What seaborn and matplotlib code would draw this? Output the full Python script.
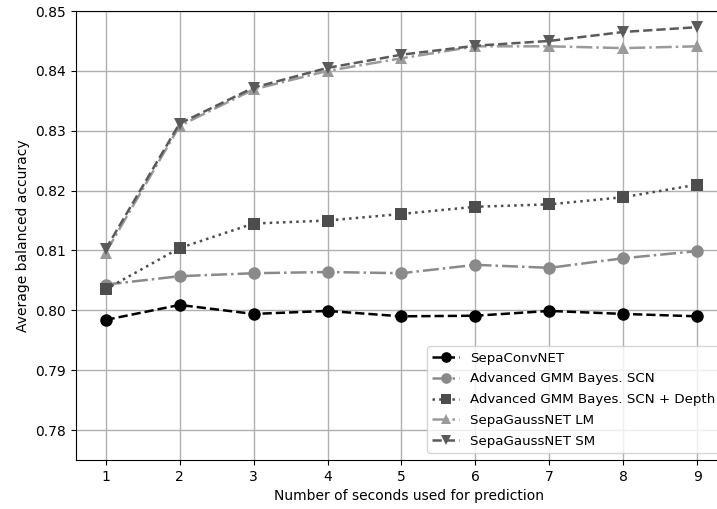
import matplotlib
matplotlib.use("Agg")
import matplotlib.pyplot as plt
import seaborn as sns
import pandas as pd

# Data
seconds = [1, 2, 3, 4, 5, 6, 7, 8, 9]
sepa_convnet = [0.7984, 0.8009, 0.7994, 0.7999, 0.7990, 0.7991, 0.7999, 0.7994, 0.7990]
gmm_scn = [0.8043, 0.8057, 0.8062, 0.8064, 0.8062, 0.8076, 0.8071, 0.8087, 0.8099]
gmm_scn_depth = [0.8035, 0.8104, 0.8145, 0.8150, 0.8161, 0.8173, 0.8177, 0.8189, 0.8210]
gauss_lm = [0.8096, 0.8308, 0.8369, 0.8400, 0.8421, 0.8441, 0.8441, 0.8438, 0.8441]
gauss_sm = [0.8102, 0.8312, 0.8372, 0.8405, 0.8427, 0.8442, 0.8450, 0.8465, 0.8473]

labels = ["SepaConvNET", "Advanced GMM Bayes. SCN", "Advanced GMM Bayes. SCN + Depth",
          "SepaGaussNET LM", "SepaGaussNET SM"]
series = [sepa_convnet, gmm_scn, gmm_scn_depth, gauss_lm, gauss_sm]
colors = ["#000000", "#8a8a8a", "#4d4d4d", "#9a9a9a", "#5a5a5a"]
markers = ["o", "o", "s", "^", "v"]
styles = ["--", "-.", ":", "-.", "--"]

fig = plt.figure(figsize=(7.17, 5.09), dpi=100)
# axes run past the right edge, as in the (cropped) reference
ax = fig.add_axes([76 / 717, 1 - 460 / 509, 665 / 717, 449 / 509])

for vals, lab, c, m, ls in zip(series, labels, colors, markers, styles):
    df = pd.DataFrame({"sec": seconds, "acc": vals})
    sns.lineplot(data=df, x="sec", y="acc", ax=ax, color=c, marker=m, linestyle=ls,
                 markersize=9, markeredgewidth=0, linewidth=1.8, label=lab)

ax.set_xlim(0.6, 9.59)
ax.set_ylim(0.775, 0.85)
ax.set_xticks(seconds)
ax.set_yticks([0.78, 0.79, 0.80, 0.81, 0.82, 0.83, 0.84, 0.85])
ax.set_yticklabels(["0.78", "0.79", "0.80", "0.81", "0.82", "0.83", "0.84", "0.85"])
ax.grid(True, color="#b0b0b0", linewidth=1)
ax.set_axisbelow(True)
ax.set_xlabel("Number of seconds used for prediction", fontsize=10)
ax.set_ylabel("Average balanced accuracy", fontsize=10)
ax.legend(loc="lower left", bbox_to_anchor=(427 / 717, 1 - 453 / 509),
          bbox_transform=fig.transFigure, borderaxespad=0, markerscale=0.85,
          fontsize=9.6, framealpha=0.8, labelspacing=0.58)

fig.savefig("out.png", dpi=100)
